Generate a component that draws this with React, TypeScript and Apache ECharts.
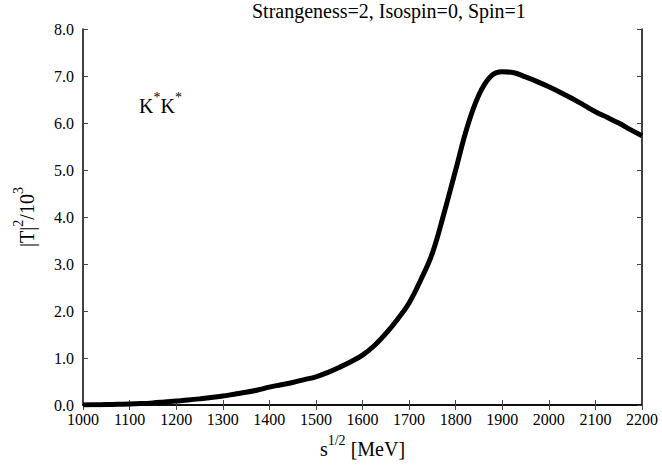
import React, { useEffect, useRef } from "react";
import * as echarts from "echarts";

const energies = [1000, 1025, 1050, 1075, 1100, 1125, 1150, 1175, 1200, 1225, 1250, 1275, 1300, 1325, 1350, 1375, 1400, 1425, 1450, 1475, 1500, 1525, 1550, 1575, 1600, 1625, 1650, 1675, 1700, 1725, 1750, 1775, 1800, 1825, 1850, 1875, 1900, 1925, 1950, 1975, 2000, 2025, 2050, 2075, 2100, 2125, 2150, 2175, 2200];
const amplitudes = [0, 0.005, 0.01, 0.015, 0.02, 0.03, 0.045, 0.065, 0.085, 0.105, 0.13, 0.16, 0.19, 0.23, 0.27, 0.32, 0.38, 0.43, 0.48, 0.54, 0.6, 0.69, 0.8, 0.92, 1.06, 1.26, 1.52, 1.82, 2.17, 2.66, 3.23, 4.08, 5.0, 5.92, 6.6, 6.99, 7.09, 7.07, 6.98, 6.88, 6.77, 6.65, 6.52, 6.38, 6.24, 6.12, 6.0, 5.86, 5.73];

const titleText = "Strangeness=2, Isospin=0, Spin=1";
const FONT = "Liberation Serif";

export default function App() {
  const ref = useRef<HTMLDivElement>(null);
  useEffect(() => {
    if (!ref.current) return;
    const chart = echarts.init(ref.current, null, { renderer: "svg" });
    const data = energies.map((e, i) => [e, amplitudes[i]]);
    const axisCommon = {
      axisLine: { show: true, lineStyle: { color: "#000", width: 1.5 } },
      axisTick: { show: true, inside: true, length: 5, lineStyle: { color: "#444", width: 1 } },
      splitLine: { show: false },
    };
    const nameRich = {
      b: { fontSize: 20, fontFamily: FONT, color: "#000", lineHeight: 26, verticalAlign: "bottom" },
      sup: { fontSize: 14, fontFamily: FONT, color: "#000", lineHeight: 26, verticalAlign: "top" },
    };
    chart.setOption({
      animation: false,
      backgroundColor: "#fff",
      textStyle: { fontFamily: FONT },
      title: {
        text: titleText,
        left: 252,
        top: 1,
        padding: 0,
        textStyle: { fontFamily: FONT, fontWeight: "normal", fontSize: 20, color: "#000" },
      },
      grid: { left: 83, right: 20, top: 29, bottom: 62 },
      xAxis: [
        {
          type: "value",
          min: 1000,
          max: 2200,
          interval: 100,
          position: "bottom",
          ...axisCommon,
          axisLabel: { color: "#000", fontSize: 16, fontFamily: FONT, margin: 6, formatter: (v: number) => String(v) },
          name: "{b|s}{sup|1/2}{b| [MeV]}",
          nameLocation: "middle",
          nameGap: 28,
          nameTextStyle: { fontFamily: FONT, rich: nameRich },
        },
        {
          type: "value",
          min: 1000,
          max: 2200,
          interval: 100,
          position: "top",
          ...axisCommon,
          axisLabel: { show: false },
        },
      ],
      yAxis: [
        {
          type: "value",
          min: 0,
          max: 8,
          interval: 1,
          position: "left",
          ...axisCommon,
          axisLabel: { color: "#000", fontSize: 16, fontFamily: FONT, margin: 9, formatter: (v: number) => v.toFixed(1) },
          name: "{b||T|}{sup|2}{b|/10}{sup|3}",
          nameLocation: "middle",
          nameGap: 46,
          nameRotate: 90,
          nameTextStyle: { fontFamily: FONT, rich: nameRich },
        },
        {
          type: "value",
          min: 0,
          max: 8,
          interval: 1,
          position: "right",
          ...axisCommon,
          axisLabel: { show: false },
        },
      ],
      graphic: [
        {
          type: "text",
          left: 139,
          top: 90,
          style: {
            text: "{b|K}{sup|*}{b|K}{sup|*}",
            font: "20px Liberation Serif",
            rich: {
              b: { fontSize: 20, fontFamily: FONT, fill: "#000", lineHeight: 26, verticalAlign: "bottom" },
              sup: { fontSize: 14, fontFamily: FONT, fill: "#000", lineHeight: 26, verticalAlign: "top" },
            },
          },
        },
      ],
      series: [
        {
          type: "line",
          data,
          smooth: 0.4,
          showSymbol: false,
          lineStyle: { color: "#000", width: 5 },
          xAxisIndex: 0,
          yAxisIndex: 0,
        },
      ],
    });
    return () => chart.dispose();
  }, []);
  return <div ref={ref} style={{ position: "fixed", left: 0, top: 0, width: 662, height: 467 }} />;
}
